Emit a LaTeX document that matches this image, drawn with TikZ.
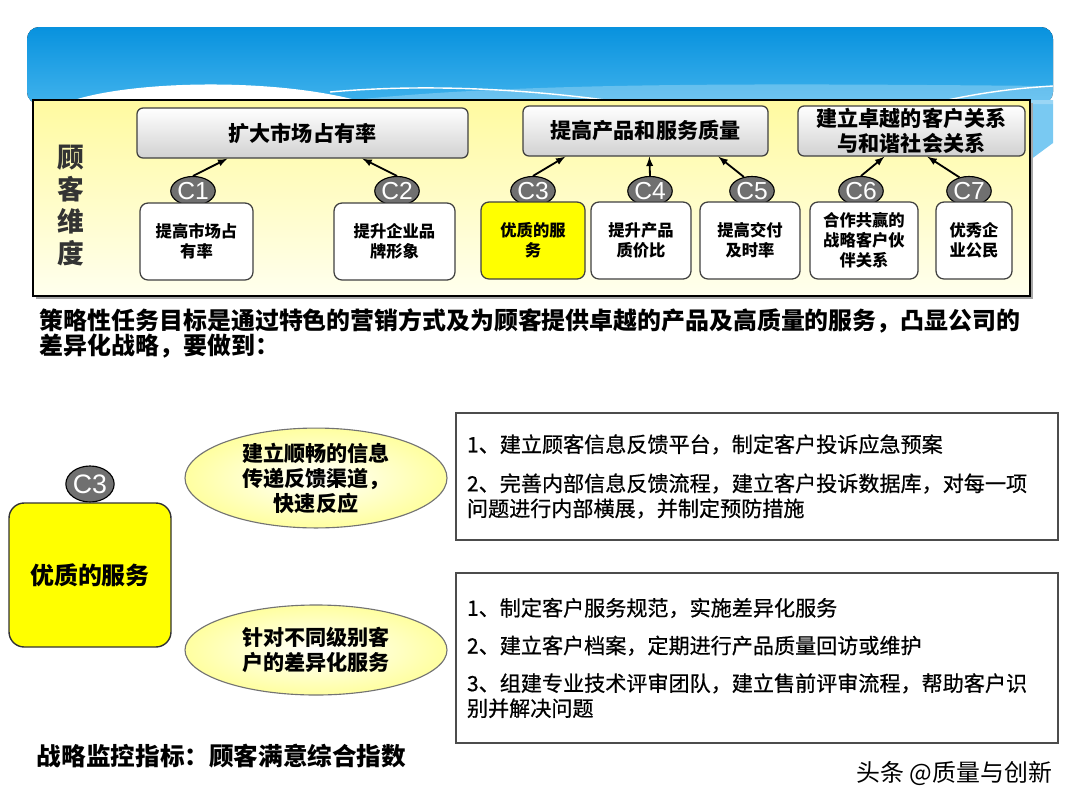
\documentclass[tikz,border=0pt]{standalone}
\usepackage{fontspec}
\setmainfont{Noto Sans CJK SC}
\newfontfamily\medfont{Noto Sans CJK SC}[FakeBold=0.6]
\newfontfamily\labelfont{Liberation Sans}
\usepackage{tikz}
\usetikzlibrary{positioning}
\usetikzlibrary{shapes.geometric}
\usepackage{xcolor}

\newcommand{\setfs}[2]{\fontsize{#1}{#2}\selectfont}
\newcommand{\pw}{0.025cm}

\definecolor{skytop}{RGB}{8,146,222}
\definecolor{skybot}{RGB}{64,178,236}
\definecolor{paneltop}{RGB}{255,250,160}
\definecolor{panelbot}{RGB}{255,255,238}
\definecolor{ballgray}{RGB}{112,112,112}
\definecolor{hiyellow}{RGB}{255,255,0}
\definecolor{ellyellow}{RGB}{255,255,160}

\begin{document}
\begin{tikzpicture}[x=0.025cm, y=-0.025cm,
    goal/.style={draw=black!75, line width=0.9pt, rounded corners=0.15cm, top color=white, bottom color=black!18, font=\bfseries\setfs{15pt}{17.8pt}, align=center, inner sep=0pt, minimum height=50*\pw},
    task/.style={draw=black!75, line width=0.9pt, rounded corners=0.2cm, fill=white, font=\bfseries\setfs{11.6pt}{14.2pt}, align=center, inner sep=0pt, minimum height=77*\pw},
    tag/.style={ellipse, draw=black, line width=0.8pt, fill=ballgray, text=white, font={\labelfont\setfs{17.5pt}{17.5pt}}, inner sep=0pt, minimum width=37*\pw, minimum height=29*\pw},
    link/.style={-latex, line width=1.3pt},
    idea/.style={ellipse, draw=black!55, line width=0.8pt, inner color=white, outer color=ellyellow, font=\bfseries\setfs{15pt}{17.8pt}, align=center, inner sep=0pt, minimum width=262*\pw, minimum height=90*\pw},
    plan/.style={draw=black!70, line width=0.9pt, fill=white, font=\medfont\setfs{15pt}{17.8pt}, align=left, inner sep=0pt, text width=580*\pw, minimum width=602*\pw}
]
    \useasboundingbox (0,0) rectangle (1080,810);

    % Sky banner
    \fill[top color=skytop, bottom color=skybot, rounded corners=0.3cm] (27,104) -- (27,27) -- (1053,27) -- (1053,104) -- cycle;
    \fill[skybot!70!white] (1030,100) -- (1053,100) -- (1053,143) -- (1030,160) -- cycle;
    \fill[white, opacity=0.25] (320,104) .. controls (500,80) and (800,84) .. (1053,86) -- (1053,104) -- cycle;
    \fill[white] (63,104) .. controls (120,80) and (280,76) .. (370,104) -- cycle;
    \draw[white, line width=1pt] (330,92) .. controls (420,84) and (520,88) .. (620,102);
    \draw[white, line width=1pt] (930,104) .. controls (980,92) and (1020,88) .. (1053,86);

    % Customer dimension panel
    \fill[black!35] (36,103) rectangle (1033,299);
    \draw[line width=1.3pt, top color=paneltop, bottom color=panelbot] (33,100) rectangle (1030,296);
    \node[font=\bfseries\setfs{19pt}{22.8pt}, text=black!80, align=center] (dim) at (71,205.5) {顾\\客\\维\\度};

    % Goals
    \node[goal, minimum width=331*\pw] (market) at (302.5,133) {扩大市场占有率};
    \node[goal, minimum width=245*\pw] (quality) at (645.5,131) {提高产品和服务质量};
    \node[goal, minimum width=227*\pw] (relation) at (911.5,131) {建立卓越的客户关系\\与和谐社会关系};

    % Tags C1--C7
    \node[tag] (c1) at (193,191) {C1};
    \node[tag] (c2) at (397,191) {C2};
    \node[tag] (c3) at (533,191) {C3};
    \node[tag] (c4) at (650,191) {C4};
    \node[tag] (c5) at (752,191) {C5};
    \node[tag] (c6) at (861,191) {C6};
    \node[tag] (c7) at (969,191) {C7};

    % Tasks
    \node[task, minimum width=113*\pw] (t1) at (196.5,241.5) {提高市场占\\有率};
    \node[task, minimum width=121*\pw] (t2) at (394.5,241.5) {提升企业品\\牌形象};
    \node[task, minimum width=104*\pw, fill=hiyellow] (t3) at (533,240.5) {优质的服\\务};
    \node[task, minimum width=100*\pw] (t4) at (641,240.5) {提升产品\\质价比};
    \node[task, minimum width=100*\pw] (t5) at (750,240.5) {提高交付\\及时率};
    \node[task, minimum width=108*\pw] (t6) at (864,240.5) {合作共赢的\\战略客户伙\\伴关系};
    \node[task, minimum width=76*\pw] (t7) at (974,240.5) {优秀企\\业公民};

    % Links to goals
    \draw[link] (c1.north) -- ([xshift=91*\pw]market.south west);
    \draw[link] (c2.north) -- ([xshift=226*\pw]market.south west);
    \draw[link] (c3.north) -- ([xshift=43*\pw]quality.south west);
    \draw[link] (c4.north) -- ([xshift=127*\pw]quality.south west);
    \draw[link] (c5.120) -- ([xshift=196*\pw]quality.south west);
    \draw[link] (c6.north) -- ([xshift=87*\pw]relation.south west);
    \draw[link] (c7.125) -- ([xshift=130*\pw]relation.south west);

    % Aim
    \node[anchor=west, align=left, font=\bfseries\setfs{17pt}{17.8pt}] (aim) at (35,333.5) {策略性任务目标是通过特色的营销方式及为顾客提供卓越的产品及高质量的服务，凸显公司的\\差异化战略，要做到：};

    % C3 detail
    \node[tag, minimum width=38*\pw, minimum height=36*\pw, font={\labelfont\setfs{19pt}{19pt}}] (c3big) at (90,484) {C3};
    \node[draw=black!80, line width=1pt, fill=hiyellow, rounded corners=0.38cm, minimum width=162*\pw, minimum height=144*\pw, font=\bfseries\setfs{17pt}{17pt}] (service) at (90,575) {优质的服务};

    \node[idea] (channel) at (316,478) {建立顺畅的信息\\传递反馈渠道，\\快速反应};
    \node[idea] (level) at (316,650) {针对不同级别客\\户的差异化服务};

    \node[plan, minimum height=127*\pw] (feedback) at (757,476.5) {1、建立顾客信息反馈平台，制定客户投诉应急预案\\[10pt]2、完善内部信息反馈流程，建立客户投诉数据库，对每一项\\问题进行内部横展，并制定预防措施};
    \node[plan, minimum height=170*\pw] (archive) at (757,658) {1、制定客户服务规范，实施差异化服务\\[9pt]2、建立客户档案，定期进行产品质量回访或维护\\[9pt]3、组建专业技术评审团队，建立售前评审流程，帮助客户识\\别并解决问题};

    % Bottom
    \node[anchor=west, font=\bfseries\setfs{17.5pt}{17.5pt}] (kpi) at (32,756) {战略监控指标：顾客满意综合指数};
    \node[anchor=east, font=\setfs{17pt}{17pt}] (mark) at (1057,773) {头条 @质量与创新};
\end{tikzpicture}
\end{document}
